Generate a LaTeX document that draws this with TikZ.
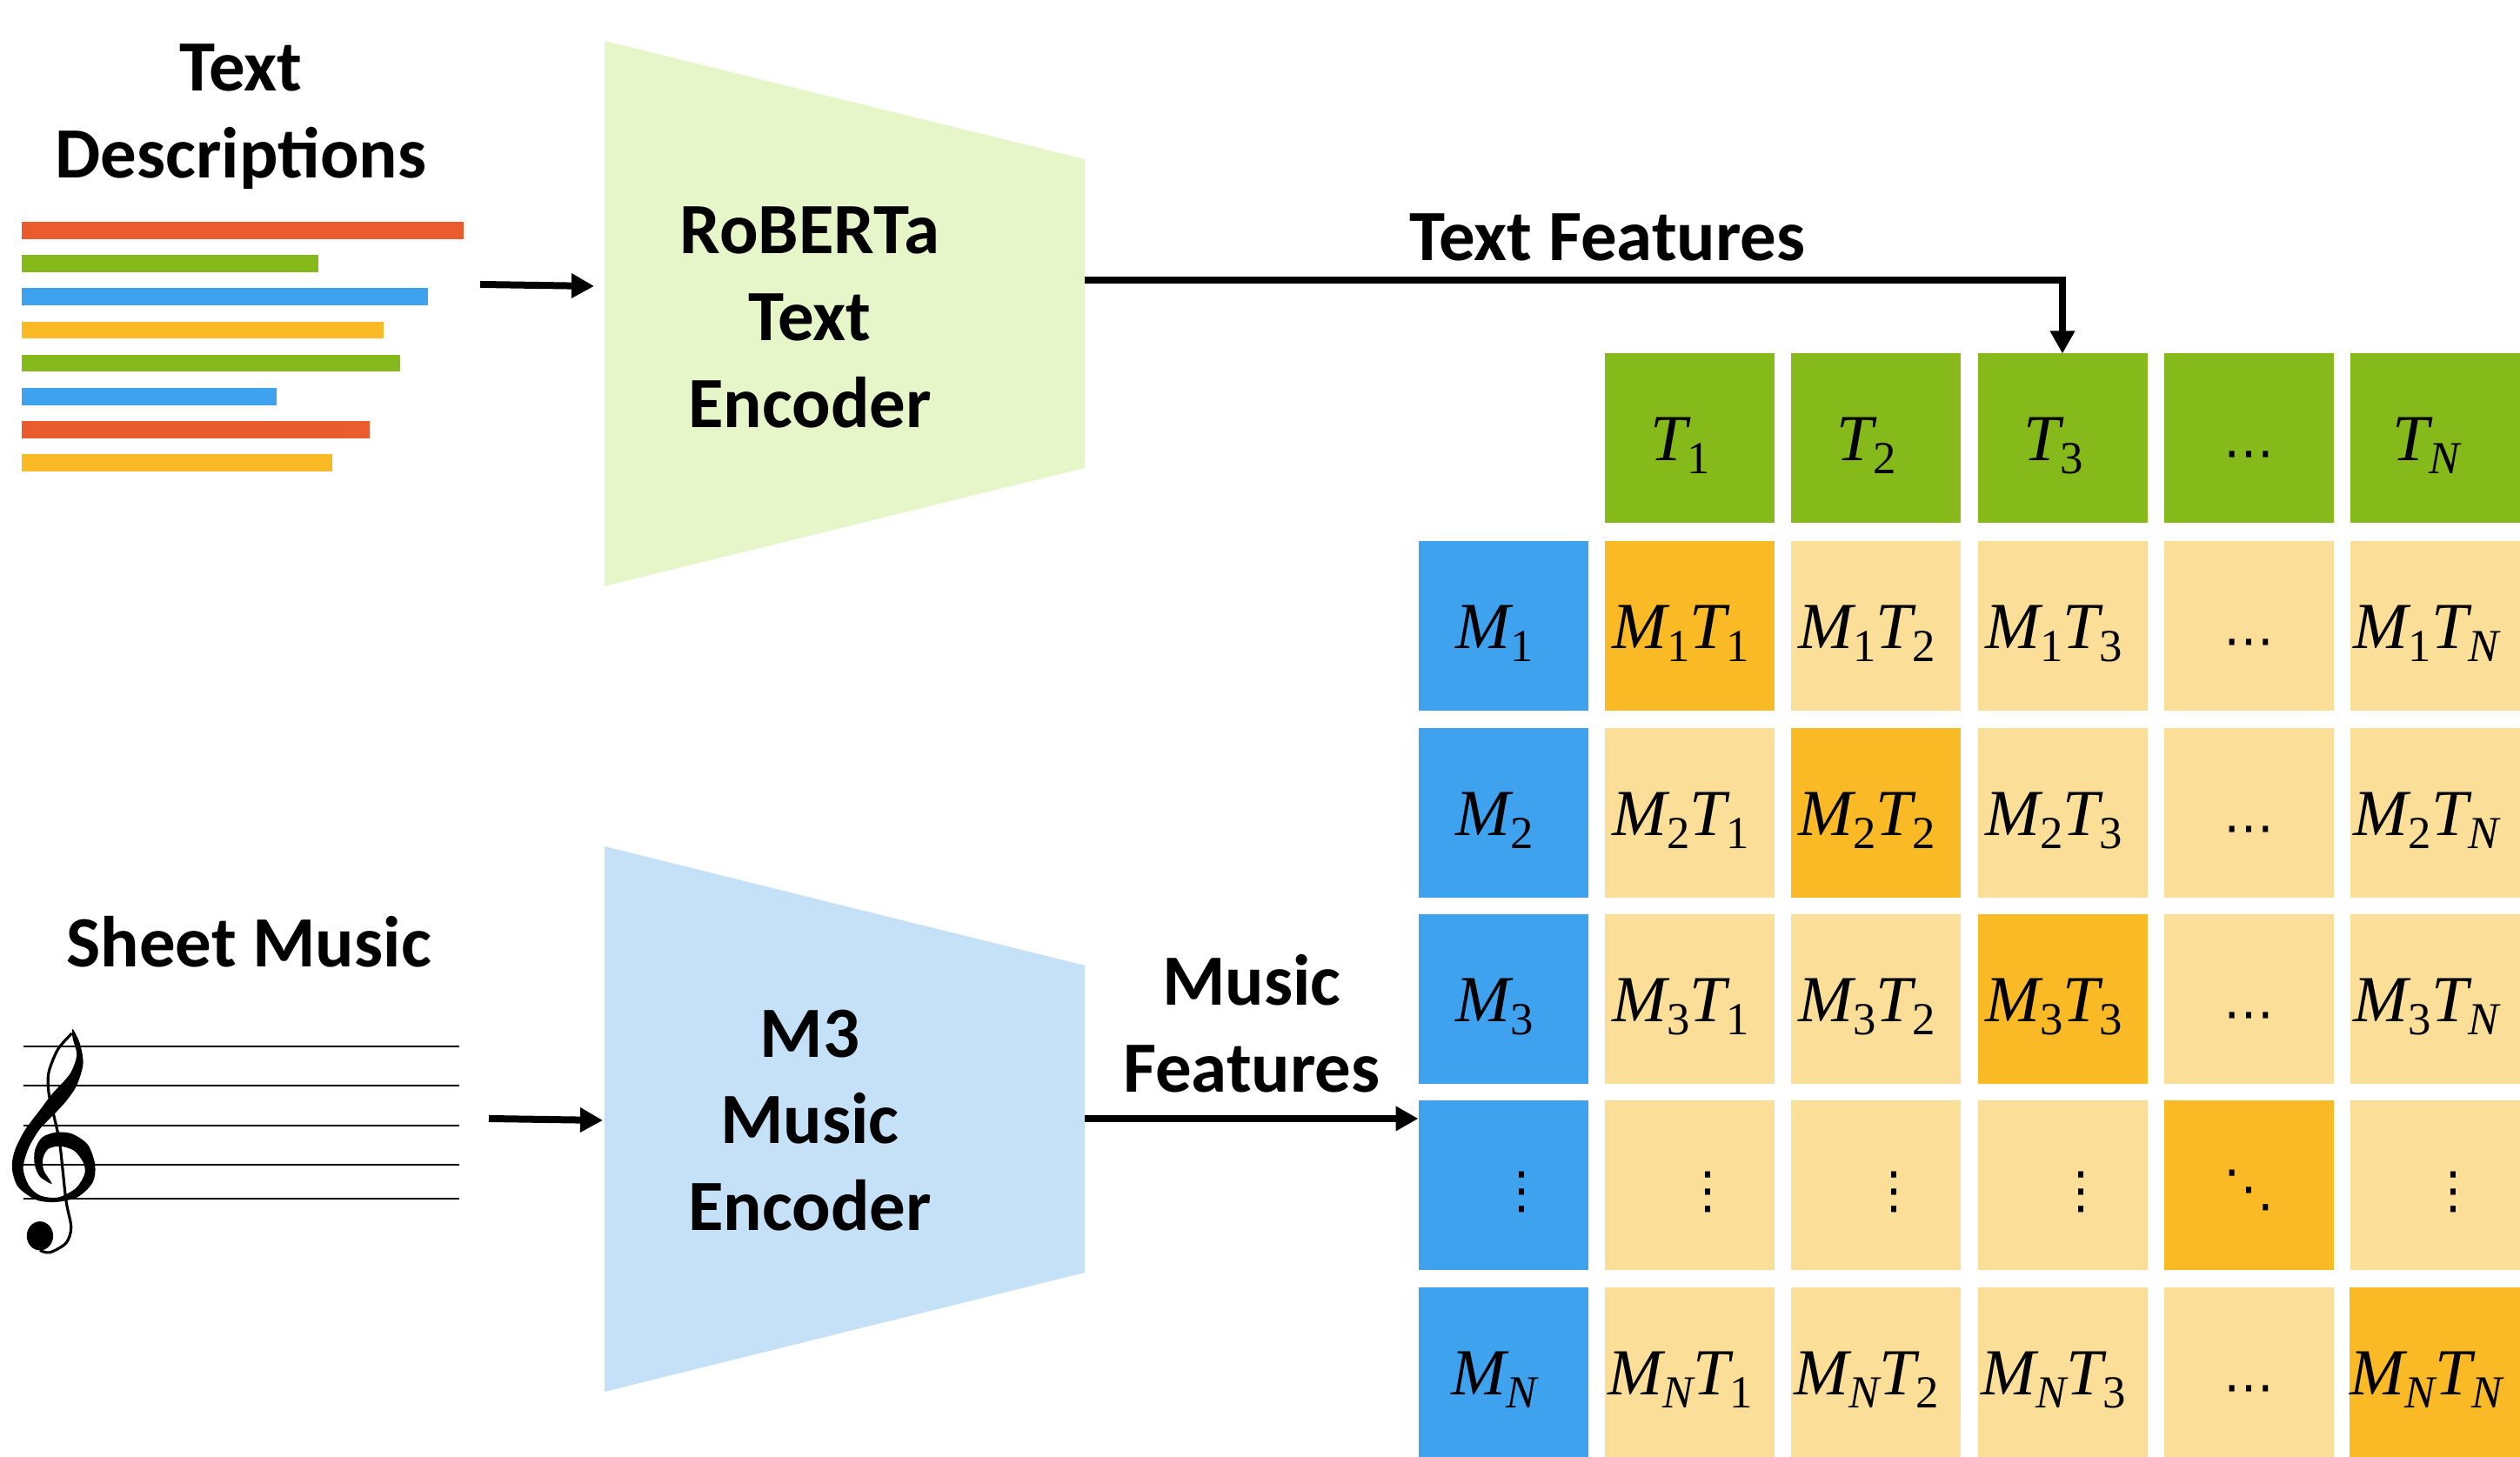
\documentclass[tikz,border=0pt]{standalone}
\usepackage{fontspec}
\setmainfont{Carlito}
\newfontfamily\symfont{Liberation Serif}
\newfontfamily\dotfont{DejaVu Sans}
\usetikzlibrary{arrows.meta,positioning,calc}
\definecolor{BarRed}{HTML}{EA5B2E}
\definecolor{BarGreen}{HTML}{86B91A}
\definecolor{BarBlue}{HTML}{3FA2EE}
\definecolor{BarYellow}{HTML}{F9BA25}
\definecolor{CellLight}{HTML}{FBDE97}
\definecolor{TextEnc}{HTML}{E6F6C9}
\definecolor{MusicEnc}{HTML}{C4E1F8}
% one symbol with its subscript
\newcommand{\syb}[2]{{\itshape #1}\raisebox{-0.15cm}{\fontsize{15}{15}\selectfont #2}}
\newcommand{\lbl}[1]{{\symfont\fontsize{21.5}{21.5}\selectfont #1}\hspace*{0.2cm}}
\newcommand{\rowdots}{\raisebox{-0.11cm}{\dotfont\fontsize{16.5}{16.5}\selectfont ⋯}}
\newcommand{\coldots}{\hspace*{0.42cm}\raisebox{0cm}{\dotfont\fontsize{16.5}{16.5}\selectfont ⋮}}
\newcommand{\diagdots}{\raisebox{0.02cm}{\dotfont\fontsize{16.5}{16.5}\selectfont ⋱}}
\tikzset{
  titletext/.style={font=\fontsize{23.6}{28.4}\selectfont\bfseries,align=center,inner sep=0pt},
  cellbox/.style={minimum size=1.95cm,inner sep=0pt,outer sep=0pt,text height=0.52cm,text depth=0pt},
  tbox/.style={cellbox,fill=BarGreen},
  mbox/.style={cellbox,fill=BarBlue},
  lightbox/.style={cellbox,fill=CellLight},
  hitbox/.style={cellbox,fill=BarYellow},
  flowarrow/.style={line width=0.08cm,-{Triangle[length=0.26cm,width=0.27cm]}},
}
\begin{document}
\begin{tikzpicture}
        \useasboundingbox (0,0) rectangle (28.97,16.75);
        % text lines
        \node[titletext] (desctitle) at (2.77,15.41) {Text\\Descriptions};
        \fill[BarRed] (0.25,14.20) rectangle (5.33,14.00);
        \fill[BarGreen] (0.25,13.82) rectangle (3.66,13.62);
        \fill[BarBlue] (0.25,13.44) rectangle (4.92,13.24);
        \fill[BarYellow] (0.25,13.05) rectangle (4.41,12.86);
        \fill[BarGreen] (0.25,12.67) rectangle (4.60,12.48);
        \fill[BarBlue] (0.25,12.29) rectangle (3.18,12.09);
        \fill[BarRed] (0.25,11.91) rectangle (4.25,11.71);
        \fill[BarYellow] (0.25,11.53) rectangle (3.82,11.33);
        % staff and clef
        \node[titletext,anchor=base] (sheettitle) at (2.86,5.63) {Sheet Music};
        \draw[line width=0.7pt] (0.27,4.72) -- (5.28,4.72);
        \draw[line width=0.7pt] (0.27,4.27) -- (5.28,4.27);
        \draw[line width=0.7pt] (0.27,3.81) -- (5.28,3.81);
        \draw[line width=0.7pt] (0.27,3.36) -- (5.28,3.36);
        \draw[line width=0.7pt] (0.27,2.97) -- (5.28,2.97);
        \begin{scope}[shift={(0,6.25)},x=0.00459cm,y=-0.00333cm]
          \fill plot[smooth cycle] coordinates {(182,400) (200,450) (208,520) (192,595) (165,650) (135,695) (100,745) (72,810) (58,880) (72,940) (100,975) (145,982) (190,950) (212,900) (208,860) (185,820) (150,805) (120,815) (107,850) (110,890) (130,935) (100,910) (87,870) (87,820) (105,775) (140,757) (180,762) (220,800) (238,870) (232,930) (195,980) (140,998) (90,990) (45,945) (30,880) (37,820) (62,750) (100,680) (130,625) (175,555) (192,490) (182,432)};
          \draw[line width=0.9pt] plot[smooth] coordinates {(180,415) (145,470) (122,550) (122,620) (135,700) (150,800) (165,990) (178,1085) (165,1140) (125,1172) (100,1165)};
          \fill (100,1115) ellipse [x radius=33,y radius=50];
        \end{scope}
        % encoders
        \fill[TextEnc] (6.95,16.28) -- (12.47,14.92) -- (12.47,11.37) -- (6.95,10.01) -- cycle;
        \fill[MusicEnc] (6.95,7.02) -- (12.47,5.65) -- (12.47,2.12) -- (6.95,0.75) -- cycle;
        \node[titletext] (textenc) at (9.31,13.1) {RoBERTa\\Text\\Encoder};
        \node[titletext] (musicenc) at (9.31,3.87) {M3\\Music\\Encoder};
        \node[titletext] (textfeat) at (18.48,14.02) {Text Features};
        \node[titletext] (musicfeat) at (14.39,4.98) {Music\\Features};
        % top row
        \node[tbox] (t1) at (19.42,11.71) {\lbl{\syb{T}{1}}};
        \node[tbox] (t2) at (21.56,11.71) {\lbl{\syb{T}{2}}};
        \node[tbox] (t3) at (23.71,11.71) {\lbl{\syb{T}{3}}};
        \node[tbox] (tdots) at (25.85,11.71) {\rowdots};
        \node[tbox] (tn) at (27.99,11.71) {\lbl{\syb{T}{\itshape N}}};
        % left column
        \node[mbox] (m1) at (17.28,9.55) {\lbl{\syb{M}{1}}};
        \node[mbox] (m2) at (17.28,7.40) {\lbl{\syb{M}{2}}};
        \node[mbox] (m3) at (17.28,5.26) {\lbl{\syb{M}{3}}};
        \node[mbox] (mdots) at (17.28,3.12) {\coldots};
        \node[mbox] (mn) at (17.28,0.97) {\lbl{\syb{M}{\itshape N}}};
        % similarity cells
        \node[hitbox] (c11) at (19.42,9.55) {\lbl{\syb{M}{1}\syb{T}{1}}};
        \node[lightbox] (c12) at (21.56,9.55) {\lbl{\syb{M}{1}\syb{T}{2}}};
        \node[lightbox] (c13) at (23.71,9.55) {\lbl{\syb{M}{1}\syb{T}{3}}};
        \node[lightbox] (c14) at (25.85,9.55) {\rowdots};
        \node[lightbox] (c15) at (27.99,9.55) {\lbl{\syb{M}{1}\syb{T}{\itshape N}}};
        \node[lightbox] (c21) at (19.42,7.40) {\lbl{\syb{M}{2}\syb{T}{1}}};
        \node[hitbox] (c22) at (21.56,7.40) {\lbl{\syb{M}{2}\syb{T}{2}}};
        \node[lightbox] (c23) at (23.71,7.40) {\lbl{\syb{M}{2}\syb{T}{3}}};
        \node[lightbox] (c24) at (25.85,7.40) {\rowdots};
        \node[lightbox] (c25) at (27.99,7.40) {\lbl{\syb{M}{2}\syb{T}{\itshape N}}};
        \node[lightbox] (c31) at (19.42,5.26) {\lbl{\syb{M}{3}\syb{T}{1}}};
        \node[lightbox] (c32) at (21.56,5.26) {\lbl{\syb{M}{3}\syb{T}{2}}};
        \node[hitbox] (c33) at (23.71,5.26) {\lbl{\syb{M}{3}\syb{T}{3}}};
        \node[lightbox] (c34) at (25.85,5.26) {\rowdots};
        \node[lightbox] (c35) at (27.99,5.26) {\lbl{\syb{M}{3}\syb{T}{\itshape N}}};
        \node[lightbox] (c41) at (19.42,3.12) {\coldots};
        \node[lightbox] (c42) at (21.56,3.12) {\coldots};
        \node[lightbox] (c43) at (23.71,3.12) {\coldots};
        \node[hitbox] (c44) at (25.85,3.12) {\diagdots};
        \node[lightbox] (c45) at (27.99,3.12) {\coldots};
        \node[lightbox] (c51) at (19.42,0.97) {\lbl{\syb{M}{\itshape N}\syb{T}{1}}};
        \node[lightbox] (c52) at (21.56,0.97) {\lbl{\syb{M}{\itshape N}\syb{T}{2}}};
        \node[lightbox] (c53) at (23.71,0.97) {\lbl{\syb{M}{\itshape N}\syb{T}{3}}};
        \node[lightbox] (c54) at (25.85,0.97) {\rowdots};
        \node[hitbox] (c55) at (27.99,0.97) {\lbl{\syb{M}{\itshape N}\syb{T}{\itshape N}}};
        % connectors
        \coordinate (textin) at (5.52,13.48);
        \coordinate (textinend) at (6.83,13.46);
        \coordinate (musicin) at (5.62,3.89);
        \coordinate (musicinend) at (6.93,3.87);
        \coordinate (textout) at (12.47,13.53);
        \coordinate (musicout) at (12.47,3.89);
        \draw[flowarrow] (textin) -- (textinend);
        \draw[flowarrow] (musicin) -- (musicinend);
        \draw[flowarrow] (textout) -| (t3.north);
        \draw[flowarrow] (musicout) -- (musicout -| mdots.west);
      \end{tikzpicture}
\end{document}
